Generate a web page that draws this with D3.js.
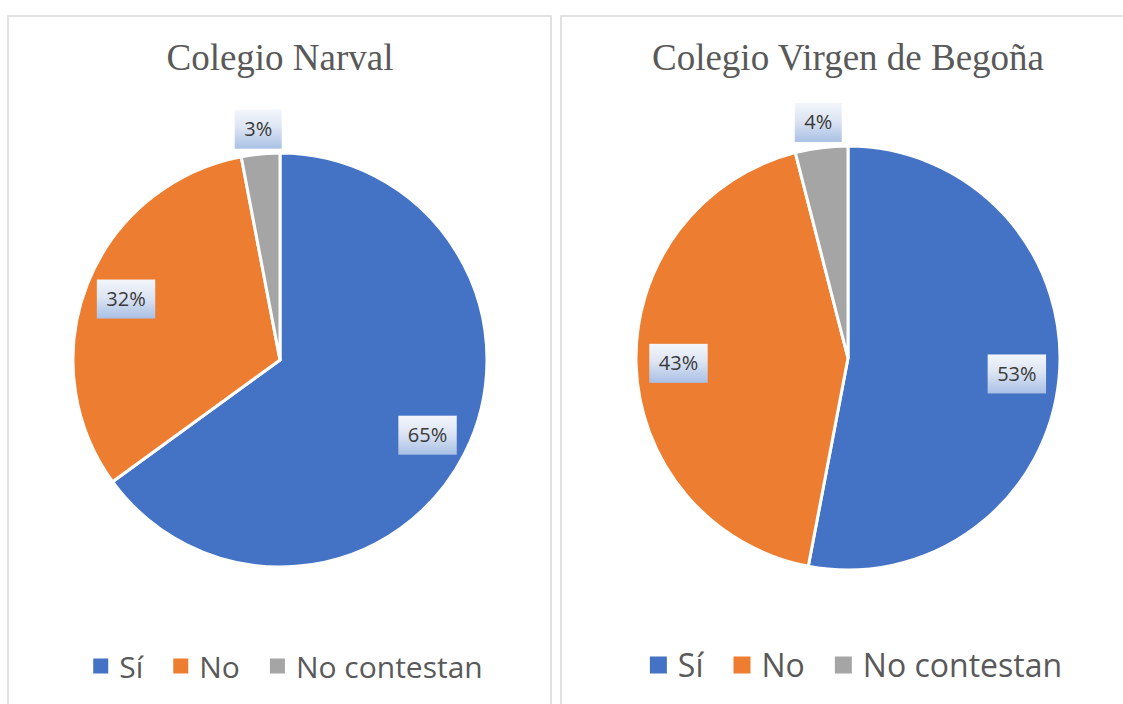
<!DOCTYPE html>
<html>
<head>
<meta charset="utf-8">
<script src="https://cdn.jsdelivr.net/npm/d3@7"></script>
<style>
  body { margin: 0; background: #fff; }
  svg { display: block; }
</style>
</head>
<body>
<div id="chart"></div>
<script>
// data
var categories = ["Sí", "No", "No contestan"];
var schools = ["Colegio Narval", "Colegio Virgen de Begoña"];
var narvalValues = [65, 32, 3];
var begonaValues = [53, 43, 4];
var sliceColors = ["#4472c4", "#ed7d31", "#a5a5a5"];

var width = 1123, height = 704;

// one entry per panel: layout only
var panels = [
  {title: schools[0], values: narvalValues, x0: 8, x1: 551, cx: 280, cy: 360, r: 207, titleSize: 37, legendSize: 30, sq: 15, legendY: 678},
  {title: schools[1], values: begonaValues, x0: 561, x1: 1135, cx: 848, cy: 358, r: 212, titleSize: 37, legendSize: 32, sq: 17, legendY: 677}
];

var svg = d3.select("#chart").append("svg")
  .attr("width", width)
  .attr("height", height);

var defs = svg.append("defs");
var grad = defs.append("linearGradient")
  .attr("id", "lblGrad")
  .attr("x1", 0).attr("y1", 0).attr("x2", 0).attr("y2", 1);
grad.append("stop").attr("offset", "0%").attr("stop-color", "#f3f6fb");
grad.append("stop").attr("offset", "45%").attr("stop-color", "#dde5f3");
grad.append("stop").attr("offset", "100%").attr("stop-color", "#a9c0e5");

var pie = d3.pie().sort(null).value(d => d);
var color = d3.scaleOrdinal().domain(categories).range(sliceColors);

panels.forEach(function(p) {
  var g = svg.append("g");

  // panel frame
  g.append("rect")
    .attr("x", p.x0).attr("y", 16)
    .attr("width", p.x1 - p.x0).attr("height", 720)
    .attr("fill", "none")
    .attr("stroke", "#d9d9d9")
    .attr("stroke-width", 1.5);

  g.append("text")
    .attr("x", p.cx)
    .attr("y", 70)
    .attr("text-anchor", "middle")
    .attr("font-family", "'Liberation Serif', 'Times New Roman', serif")
    .attr("font-size", p.titleSize)
    .attr("fill", "#595959")
    .text(p.title);

  var arcs = pie(p.values);
  var arc = d3.arc().innerRadius(0).outerRadius(p.r);

  var pieG = g.append("g").attr("transform", "translate(" + p.cx + "," + p.cy + ")");

  pieG.selectAll("path")
    .data(arcs)
    .enter()
    .append("path")
    .attr("d", arc)
    .attr("fill", (d, i) => color(categories[i]))
    .attr("stroke", "#fff")
    .attr("stroke-width", 3)
    .attr("stroke-linejoin", "round");

  var total = d3.sum(p.values);
  var labels = pieG.selectAll("g.lbl")
    .data(arcs)
    .enter()
    .append("g")
    .attr("class", "lbl")
    .attr("transform", function(d) {
      var a = (d.startAngle + d.endAngle) / 2;
      var rr = d.value / total < 0.05 ? p.r * 1.12 : p.r * 0.8;
      return "translate(" + (Math.sin(a) * rr) + "," + (-Math.cos(a) * rr) + ")";
    });

  labels.append("rect");
  var lblText = labels.append("text")
    .attr("text-anchor", "middle")
    .attr("dy", "0.35em")
    .attr("font-family", "'Open Sans', 'Noto Sans', sans-serif")
    .attr("font-size", 20)
    .attr("fill", "#3a3a3a")
    .text(d => Math.round(d.value / total * 100) + "%");

  lblText.each(function() {
    var w = this.getComputedTextLength();
    d3.select(this.parentNode).select("rect")
      .attr("x", -w / 2 - 9.5)
      .attr("y", -19.5)
      .attr("width", w + 19)
      .attr("height", 39)
      .attr("fill", "url(#lblGrad)");
  });

  // legend
  var leg = g.append("g");
  var items = leg.selectAll("g")
    .data(categories)
    .enter()
    .append("g");
  items.append("rect")
    .attr("width", p.sq).attr("height", p.sq)
    .attr("y", p.legendY - 11 - p.sq / 2 - 1)
    .attr("fill", d => color(d));
  items.append("text")
    .attr("x", p.sq + 11)
    .attr("y", p.legendY)
    .attr("font-family", "'Open Sans', 'Noto Sans', sans-serif")
    .attr("font-size", p.legendSize)
    .attr("fill", "#595959")
    .text(d => d);

  var xPos = 0, gap = 30;
  items.each(function() {
    var t = d3.select(this).select("text").node();
    d3.select(this).attr("transform", "translate(" + xPos + ",0)");
    xPos += p.sq + 11 + t.getComputedTextLength() + gap;
  });
  var legW = xPos - gap;
  leg.attr("transform", "translate(" + (p.cx + 8 - legW / 2) + ",0)");
});
</script>
</body>
</html>
